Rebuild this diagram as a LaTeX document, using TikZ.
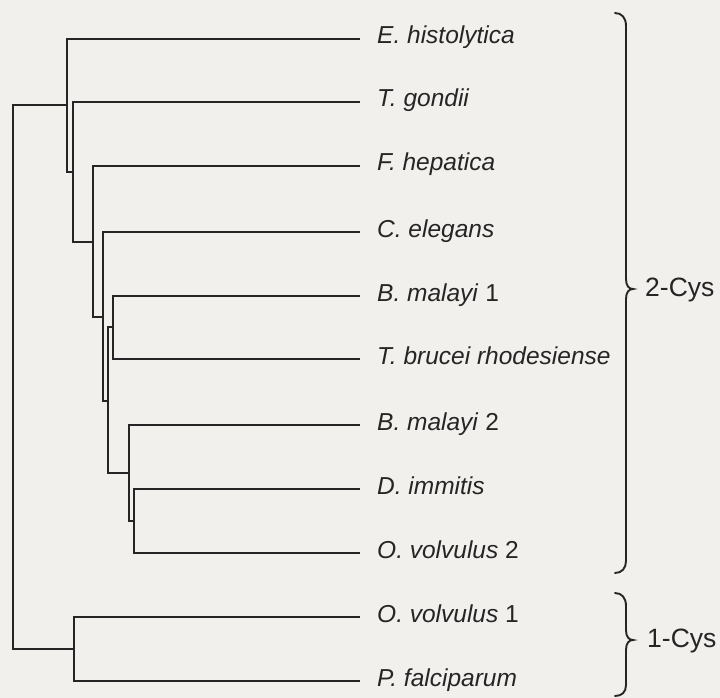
\documentclass[tikz,border=0pt]{standalone}
\usepackage{fontspec}
\setmainfont{Liberation Sans}
\definecolor{bgc}{HTML}{F1F0ED}
\definecolor{ink}{HTML}{252525}
\begin{document}
\begin{tikzpicture}[x=1pt,y=-1pt,
  branch/.style={draw=ink,line width=2.2pt},
  bracepath/.style={draw=ink,line width=1.9pt,line cap=round},
  leaf/.style={anchor=base west,inner sep=0pt,text=ink,font=\fontsize{24.5}{29}\selectfont},
  grouplbl/.style={anchor=west,inner sep=0pt,text=ink,font=\fontsize{26.5}{30}\selectfont}]
\fill[bgc] (0,0) rectangle (720,698);
\useasboundingbox (0,0) rectangle (720,698);
% internal nodes (at their attachment points)
\coordinate (nR) at (13,377);
\coordinate (nA) at (67,105);
\coordinate (nB) at (73,172);
\coordinate (nC) at (93,242);
\coordinate (nD) at (103,317);
\coordinate (nE) at (108,401);
\coordinate (nF) at (113,327);
\coordinate (nG) at (129,473);
\coordinate (nH) at (134,521);
\coordinate (nI) at (74,649);
% leaf tips
\coordinate (tEhis) at (360,39);
\coordinate (tTgon) at (360,102);
\coordinate (tFhep) at (360,166);
\coordinate (tCele) at (360,232);
\coordinate (tBmal1) at (360,296);
\coordinate (tTbru) at (360,359);
\coordinate (tBmal2) at (360,425);
\coordinate (tDimm) at (360,489);
\coordinate (tOvol2) at (360,553);
\coordinate (tOvol1) at (360,617);
\coordinate (tPfal) at (360,681);
% labels
\node[leaf] (Ehis) at (377,44) {\textit{E. histolytica}};
\node[leaf] (Tgon) at (377,107) {\textit{T. gondii}};
\node[leaf] (Fhep) at (377,171) {\textit{F. hepatica}};
\node[leaf] (Cele) at (377,237) {\textit{C. elegans}};
\node[leaf] (Bmal1) at (377,301) {\textit{B. malayi} 1};
\node[leaf] (Tbru) at (377,364) {\textit{T. brucei rhodesiense}};
\node[leaf] (Bmal2) at (377,430) {\textit{B. malayi} 2};
\node[leaf] (Dimm) at (377,494) {\textit{D. immitis}};
\node[leaf] (Ovol2) at (377,558) {\textit{O. volvulus} 2};
\node[leaf] (Ovol1) at (377,622) {\textit{O. volvulus} 1};
\node[leaf] (Pfal) at (377,686) {\textit{P. falciparum}};
% branches
\draw[branch] (nA) -| (nR);
\draw[branch] (nI) -| (nR);
\draw[branch] (tEhis) -| (nA);
\draw[branch] (nB) -| (nA);
\draw[branch] (tTgon) -| (nB);
\draw[branch] (nC) -| (nB);
\draw[branch] (tFhep) -| (nC);
\draw[branch] (nD) -| (nC);
\draw[branch] (tCele) -| (nD);
\draw[branch] (nE) -| (nD);
\draw[branch] (nF) -| (nE);
\draw[branch] (nG) -| (nE);
\draw[branch] (tBmal1) -| (nF);
\draw[branch] (tTbru) -| (nF);
\draw[branch] (tBmal2) -| (nG);
\draw[branch] (nH) -| (nG);
\draw[branch] (tDimm) -| (nH);
\draw[branch] (tOvol2) -| (nH);
\draw[branch] (tOvol1) -| (nI);
\draw[branch] (tPfal) -| (nI);
% braces
\draw[bracepath] (615,13) .. controls (622,13) and (626,18) .. (626,26)
  -- (626,279) .. controls (626,286) and (629,289) .. (633,289)
  .. controls (629,289) and (626,292) .. (626,299)
  -- (626,561) .. controls (626,568) and (622,573) .. (615,573);
\draw[bracepath] (615,593) .. controls (622,593) and (626,598) .. (626,606)
  -- (626,630) .. controls (626,637) and (629,640) .. (633,640)
  .. controls (629,640) and (626,643) .. (626,650)
  -- (626,685) .. controls (626,692) and (622,696) .. (615,696);
\node[grouplbl] (cys2) at (645,290) {2-Cys};
\node[grouplbl] (cys1) at (647,641) {1-Cys};
\end{tikzpicture}
\end{document}
